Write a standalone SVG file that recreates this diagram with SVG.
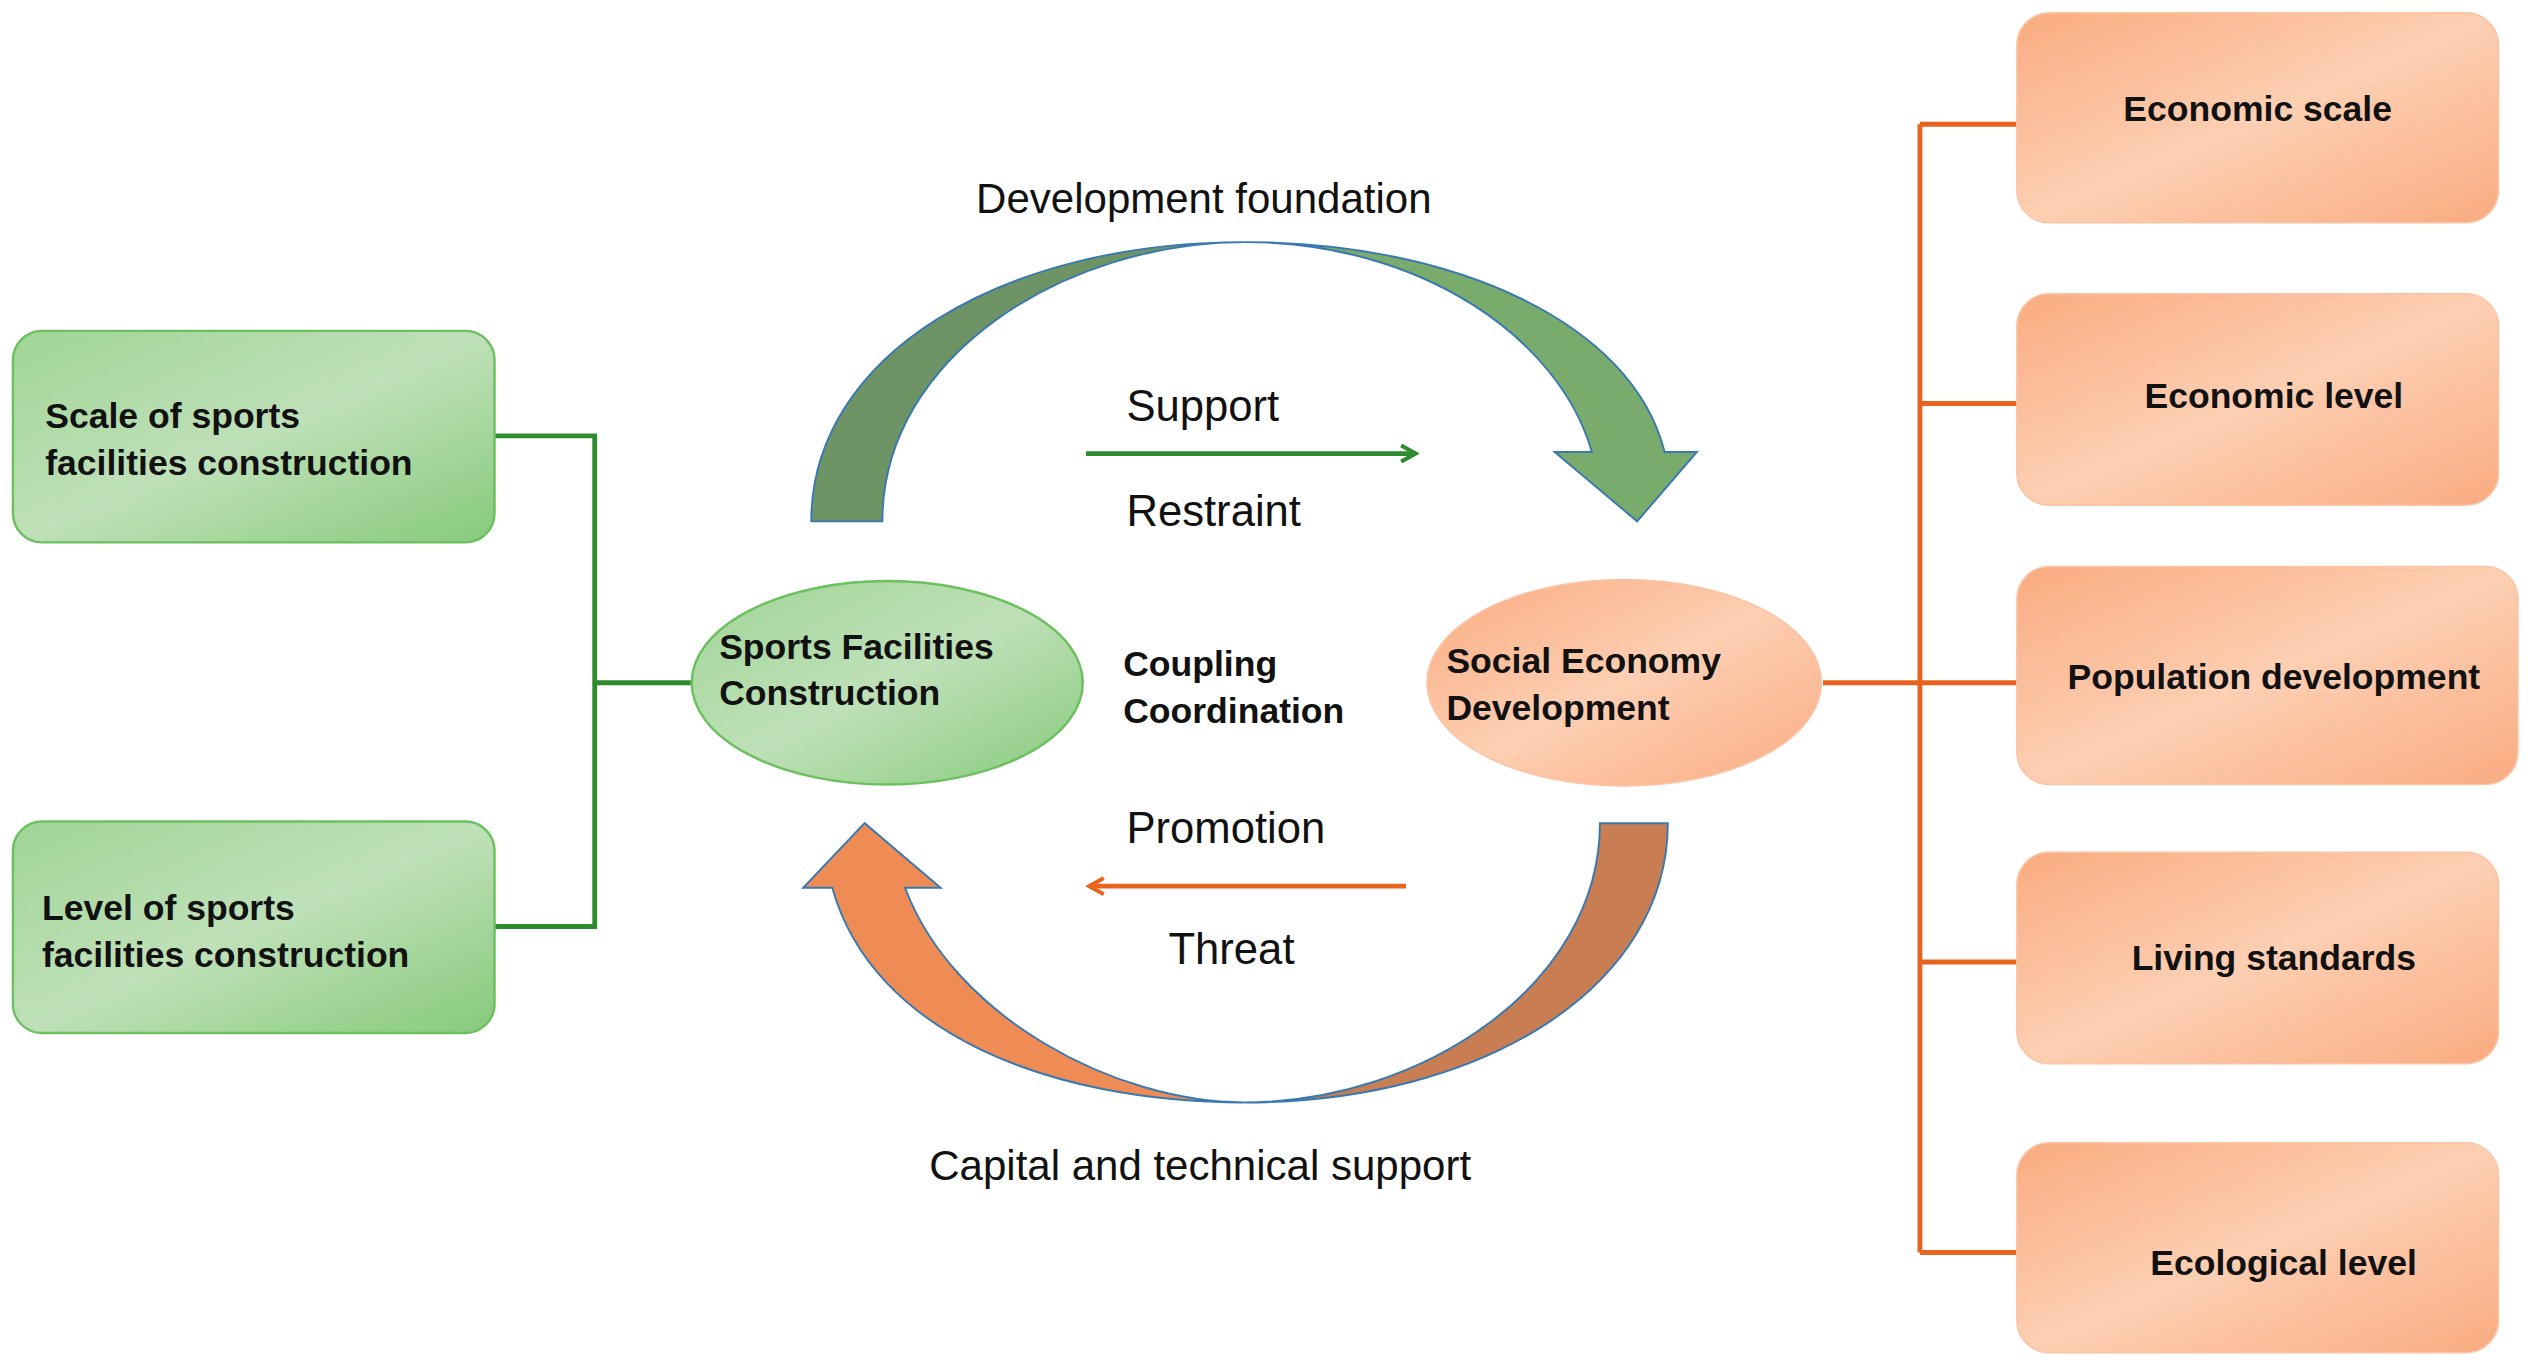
<svg xmlns="http://www.w3.org/2000/svg" width="2534" height="1372" viewBox="0 0 2534 1372">
<style>
.b{font-family:"Liberation Sans",Arial,sans-serif;font-weight:bold;font-size:22px;fill:#111}
.n{font-family:"Liberation Sans",Arial,sans-serif;font-size:27px;fill:#111}
.gb{fill:url(#gg);stroke:#6cc060;stroke-width:1.5}
.ob{fill:url(#og);stroke:#fbc4a4;stroke-width:1}
.gl{stroke:#2e8b2e;stroke-width:3;fill:none}
.ol{stroke:#e8641e;stroke-width:3;fill:none}
</style>
<defs>
<linearGradient id="gg" x1="0" y1="0" x2="1" y2="1"><stop offset="0" stop-color="#9fd596"/><stop offset="0.5" stop-color="#bfe0b8"/><stop offset="1" stop-color="#86ca7b"/></linearGradient>
<linearGradient id="og" x1="0" y1="0" x2="1" y2="1"><stop offset="0" stop-color="#f9ab7f"/><stop offset="0.5" stop-color="#fdcfb3"/><stop offset="1" stop-color="#f9ab80"/></linearGradient>
<marker id="ag" markerWidth="12" markerHeight="12" refX="10" refY="6" orient="auto" markerUnits="userSpaceOnUse"><path d="M1,1 L10,6 L1,11" fill="none" stroke="#2e8b2e" stroke-width="2.5"/></marker>
<marker id="ao" markerWidth="12" markerHeight="12" refX="10" refY="6" orient="auto" markerUnits="userSpaceOnUse"><path d="M1,1 L10,6 L1,11" fill="none" stroke="#e8641e" stroke-width="2.5"/></marker>
</defs>
<g transform="scale(1.6161,1.6141)">
<g id="connectors">
<path class="gl" d="M306,270 H368 V574 H306 M368,423 H428"/>
<path class="ol" d="M1128,423 H1248 M1188,77 V776 M1188,77 H1248 M1188,250 H1248 M1188,596 H1248 M1188,776 H1248"/>
<g id="top-arrow" stroke="#3a78b0" stroke-width="1.2">
<path d="M502,323 C502,220 620,150 770,150 C660,150 546,220 546,323 Z" fill="#6e9466"/>
<path d="M770,150 C900,150 1010,200 1030,280 L1050,280 L1013,323 L962,280 L985,280 C965,210 880,150 770,150 Z" fill="#79ab6d"/>
</g>
<g id="bottom-arrow" stroke="#3a78b0" stroke-width="1.2">
<path d="M1032,510 C1032,610 920,683 770,683 C880,683 990,610 990,510 Z" fill="#c97d52"/>
<path d="M770,683 C650,683 540,640 515,550 L497,550 L535,510 L582,550 L560,550 C590,630 690,683 770,683 Z" fill="#ef8c55"/>
</g>
<line x1="672" y1="281" x2="876" y2="281" stroke="#2e8b2e" stroke-width="3" marker-end="url(#ag)"/>
<line x1="870" y1="549" x2="674" y2="549" stroke="#e8641e" stroke-width="3" marker-end="url(#ao)"/>
</g>
<text class="n" x="604" y="132" style="font-size:26px">Development foundation</text>
<text class="n" x="697" y="261">Support</text>
<text class="n" x="697" y="326">Restraint</text>
<text class="b" x="695" y="419">Coupling</text>
<text class="b" x="695" y="448">Coordination</text>
<text class="n" x="697" y="522">Promotion</text>
<text class="n" x="723" y="597">Threat</text>
<text class="n" x="575" y="731" style="font-size:26px">Capital and technical support</text>
<g id="scale"><rect class="gb" x="8" y="205" width="298" height="131" rx="18"/><text class="b" x="28" y="265">Scale of sports</text><text class="b" x="28" y="294">facilities construction</text></g>
<g id="level"><rect class="gb" x="8" y="509" width="298" height="131" rx="18"/><text class="b" x="26" y="570">Level of sports</text><text class="b" x="26" y="599">facilities construction</text></g>
<g id="sports"><ellipse class="gb" cx="549" cy="423" rx="121" ry="63"/><text class="b" x="445" y="408">Sports Facilities</text><text class="b" x="445" y="437">Construction</text></g>
<g id="social"><ellipse class="ob" cx="1005" cy="423" rx="122" ry="64" stroke="#f9b08a"/><text class="b" x="895" y="417">Social Economy</text><text class="b" x="895" y="446">Development</text></g>
<g id="e1"><rect class="ob" x="1248" y="8" width="298" height="130" rx="20"/><text class="b" x="1397" y="75" text-anchor="middle">Economic scale</text></g>
<g id="e2"><rect class="ob" x="1248" y="182" width="298" height="131" rx="20"/><text class="b" x="1407" y="253" text-anchor="middle">Economic level</text></g>
<g id="e3"><rect class="ob" x="1248" y="351" width="310" height="135" rx="20"/><text class="b" x="1407" y="427" text-anchor="middle">Population development</text></g>
<g id="e4"><rect class="ob" x="1248" y="528" width="298" height="131" rx="20"/><text class="b" x="1407" y="601" text-anchor="middle">Living standards</text></g>
<g id="e5"><rect class="ob" x="1248" y="708" width="298" height="130" rx="20"/><text class="b" x="1413" y="790" text-anchor="middle">Ecological level</text></g>
</g>
</svg>
